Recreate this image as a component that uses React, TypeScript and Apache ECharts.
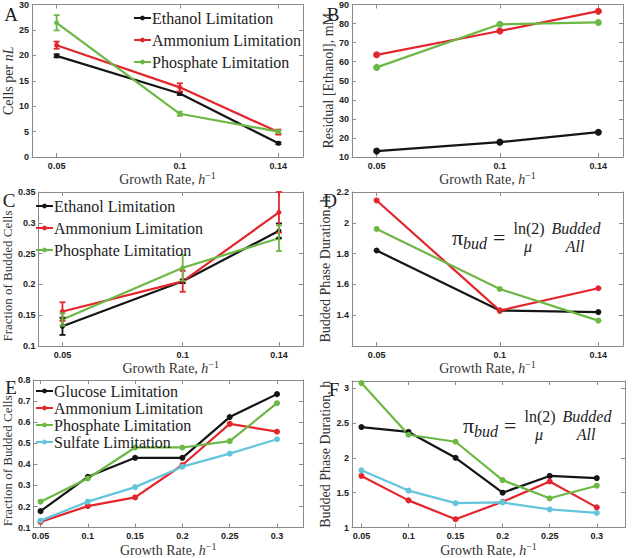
import React, { useEffect, useRef } from 'react';
import * as echarts from 'echarts';

// ---------- data ----------
const growthRatesABCD = [0.05, 0.1, 0.14];
const growthRatesEF = [0.05, 0.1, 0.15, 0.2, 0.25, 0.3];

// Panel A: cells per nL
const cellsEthanol = [19.9, 12.5, 2.7];
const cellsEthanolErr = [0.3, 0.3, 0.2];
const cellsAmmonium = [22.0, 13.7, 4.9];
const cellsAmmoniumErr = [0.7, 0.8, 0.5];
const cellsPhosphate = [26.4, 8.5, 5.0];
const cellsPhosphateErr = [1.5, 0.4, 0.3];

// Panel B: residual ethanol, mM
const residualEthanol = [13.1, 17.8, 23.0];
const residualAmmonium = [63.6, 76.1, 86.5];
const residualPhosphate = [57.0, 79.6, 80.6];

// Panel C: fraction of budded cells
const buddedEthanol = [0.132, 0.205, 0.287];
const buddedEthanolErr = [0.014, 0.003, 0.012];
const buddedAmmonium = [0.156, 0.205, 0.317];
const buddedAmmoniumErr = [0.015, 0.017, 0.033];
const buddedPhosphate = [0.143, 0.227, 0.275];
const buddedPhosphateErr = [0.01, 0.021, 0.021];

// Panel D: budded phase duration, h
const durationEthanol = [1.82, 1.43, 1.42];
const durationAmmonium = [2.145, 1.43, 1.575];
const durationPhosphate = [1.96, 1.57, 1.365];

// Panel E: fraction of budded cells
const buddedGlucoseE = [0.178, 0.341, 0.431, 0.431, 0.624, 0.733];
const buddedAmmoniumE = [0.127, 0.202, 0.243, 0.397, 0.592, 0.555];
const buddedPhosphateE = [0.223, 0.333, 0.48, 0.48, 0.51, 0.69];
const buddedSulfateE = [0.133, 0.223, 0.292, 0.389, 0.451, 0.519];

// Panel F: budded phase duration, h
const durationGlucoseF = [2.44, 2.37, 2.0, 1.5, 1.74, 1.71];
const durationAmmoniumF = [1.74, 1.39, 1.12, 1.37, 1.66, 1.29];
const durationPhosphateF = [3.07, 2.33, 2.23, 1.68, 1.42, 1.6];
const durationSulfateF = [1.82, 1.53, 1.35, 1.36, 1.26, 1.21];

// tick labels
const xTicksABCD = [0.05, 0.1, 0.14];
const xTicksEF = [0.05, 0.1, 0.15, 0.2, 0.25, 0.3];
const yTicksA = [0, 5, 10, 15, 20, 25, 30];
const yTicksB = [10, 20, 30, 40, 50, 60, 70, 80, 90];
const yTicksC = [0.1, 0.15, 0.2, 0.25, 0.3, 0.35];
const yTicksD = [1.4, 1.6, 1.8, 2, 2.2];
const yTicksE = [0.1, 0.2, 0.3, 0.4, 0.5, 0.6, 0.7, 0.8];
const yTicksF = [1, 1.5, 2, 2.5, 3];

const N_ETH = 'Ethanol Limitation';
const N_AMM = 'Ammonium Limitation';
const N_PHO = 'Phosphate Limitation';
const N_GLU = 'Glucose Limitation';
const N_SUL = 'Sulfate Limitation';

// ---------- styles ----------
const BLACK = '#151515';
const RED = '#e3262b';
const GREEN = '#6cb844';
const CYAN = '#63c5dc';
const SERIF = "'Liberation Serif', 'Times New Roman', 'DejaVu Serif', serif";
const SANS = "'Liberation Sans', Arial, sans-serif";
const AX = { color: '#8a8a8a', width: 1 };

const fmt = (v: number) => String(parseFloat(Number(v).toFixed(3)));

function nameStyle(size: number, shiftDown: number) {
  return {
    fontFamily: SERIF,
    fontSize: size,
    color: '#333',
    padding: shiftDown > 0 ? [0, shiftDown * 2, 0, 0] : 0,
    rich: {
      i: { fontFamily: SERIF, fontSize: size, fontStyle: 'italic', color: '#333' },
      s: { fontFamily: SERIF, fontSize: 10, color: '#333', padding: [0, 0, 7, 0] },
    },
  };
}

function xAxesFor(grid: number, min: number, max: number, ticks: number[]) {
  return [
    {
      type: 'value', gridIndex: grid, min, max, position: 'bottom',
      axisLine: { show: true, onZero: false, lineStyle: AX },
      axisTick: { show: true, inside: true, length: 4, customValues: ticks, lineStyle: AX },
      axisLabel: {
        show: true, customValues: ticks, margin: 4, fontSize: 9, fontWeight: 'bold',
        fontFamily: SANS, color: '#222', formatter: fmt,
      },
      splitLine: { show: false },
      name: 'Growth Rate, {i|h}{s|−1}',
      nameLocation: 'middle', nameGap: 10, nameTextStyle: nameStyle(14, 0),
    },
    {
      type: 'value', gridIndex: grid, min, max, position: 'top',
      axisLine: { show: true, onZero: false, lineStyle: AX },
      axisTick: { show: true, inside: true, length: 4, customValues: ticks, lineStyle: AX },
      axisLabel: { show: false },
      splitLine: { show: false },
    },
  ];
}

function yAxesFor(grid: number, min: number, max: number, ticks: number[], name: string, gap: number, size: number, shift: number) {
  return [
    {
      type: 'value', gridIndex: grid, min, max, position: 'left',
      axisLine: { show: true, onZero: false, lineStyle: AX },
      axisTick: { show: true, inside: true, length: 4, customValues: ticks, lineStyle: AX },
      axisLabel: {
        show: true, customValues: ticks, margin: 3, fontSize: 9, fontWeight: 'bold',
        fontFamily: SANS, color: '#222', formatter: fmt,
      },
      splitLine: { show: false },
      name, nameLocation: 'middle', nameGap: gap, nameTextStyle: nameStyle(size, shift),
    },
    {
      type: 'value', gridIndex: grid, min, max, position: 'right',
      axisLine: { show: true, onZero: false, lineStyle: AX },
      axisTick: { show: true, inside: true, length: 4, customValues: ticks, lineStyle: AX },
      axisLabel: { show: false },
      splitLine: { show: false },
    },
  ];
}

function line(name: string, color: string, xs: number[], ys: number[], panel: number, size: number) {
  return {
    type: 'line', name, xAxisIndex: panel * 2, yAxisIndex: panel * 2,
    data: xs.map((x, i) => [x, ys[i]]),
    symbol: 'circle', symbolSize: size, showSymbol: true,
    lineStyle: { color, width: 2.2 }, itemStyle: { color },
    silent: true, z: 2,
  };
}

function errorBars(color: string, xs: number[], ys: number[], errs: number[], panel: number) {
  return {
    type: 'custom', xAxisIndex: panel * 2, yAxisIndex: panel * 2,
    data: xs.map((x, i) => [x, ys[i] - errs[i], ys[i] + errs[i]]),
    encode: { x: 0, y: [1, 2] },
    silent: true, z: 3,
    renderItem: (params: any, api: any) => {
      const x = api.value(0);
      const lo = api.coord([x, api.value(1)]);
      const hi = api.coord([x, api.value(2)]);
      const w = 3;
      const st = { stroke: color, lineWidth: 1.8 };
      return {
        type: 'group',
        children: [
          { type: 'line', shape: { x1: lo[0], y1: lo[1], x2: hi[0], y2: hi[1] }, style: st },
          { type: 'line', shape: { x1: lo[0] - w, y1: lo[1], x2: lo[0] + w, y2: lo[1] }, style: st },
          { type: 'line', shape: { x1: hi[0] - w, y1: hi[1], x2: hi[0] + w, y2: hi[1] }, style: st },
        ],
      };
    },
  };
}

function formula(x0: number, y0: number) {
  const c = '#222';
  return {
    type: 'group', x: x0, y: y0, silent: true,
    children: [
      { type: 'text', x: 0, y: 0, style: { text: 'π', font: `22px ${SERIF}`, fill: c, align: 'left', verticalAlign: 'middle' } },
      { type: 'text', x: 11, y: 6, style: { text: 'bud', font: `italic 16px ${SERIF}`, fill: c, align: 'left', verticalAlign: 'middle' } },
      { type: 'text', x: 41, y: 0, style: { text: '=', font: `22px ${SERIF}`, fill: c, align: 'left', verticalAlign: 'middle' } },
      { type: 'text', x: 77, y: -9, style: { text: 'ln(2)', font: `16px ${SERIF}`, fill: c, align: 'center', verticalAlign: 'middle' } },
      { type: 'text', x: 76, y: 9, style: { text: 'μ', font: `italic 16px ${SERIF}`, fill: c, align: 'center', verticalAlign: 'middle' } },
      { type: 'text', x: 124, y: -9, style: { text: 'Budded', font: `italic 16px ${SERIF}`, fill: c, align: 'center', verticalAlign: 'middle' } },
      { type: 'text', x: 123, y: 9, style: { text: 'All', font: `italic 16px ${SERIF}`, fill: c, align: 'center', verticalAlign: 'middle' } },
    ],
  };
}

function letter(t: string, x: number, y: number) {
  return {
    type: 'text', x, y, silent: true,
    style: { text: t, font: `19px ${SERIF}`, fill: '#222', align: 'center', verticalAlign: 'middle' },
  };
}

function legendFor(names: string[], left: number, top: number, gap: number) {
  return {
    show: true, orient: 'vertical', left, top, itemGap: gap,
    itemWidth: 17, itemHeight: 6, padding: 0, selectedMode: false,
    data: names,
    textStyle: { fontFamily: SERIF, fontSize: 16, color: '#222', lineHeight: 16, padding: [0, 0, 0, -4] },
  };
}

export default function App() {
  const ref = useRef<HTMLDivElement>(null);
  useEffect(() => {
    document.body.style.margin = '0';
    if (!ref.current) return;
    const chart = echarts.init(ref.current, undefined, { renderer: 'svg' });

    const grids = [
      { left: 32, top: 3, width: 271, height: 154 },
      { left: 352, top: 3, width: 271, height: 154 },
      { left: 32, top: 192, width: 271, height: 154 },
      { left: 352, top: 192, width: 271, height: 154 },
      { left: 32, top: 380, width: 271, height: 155 },
      { left: 352, top: 381, width: 273, height: 154 },
    ].map((g) => ({ ...g, containLabel: false, show: false }));

    const xAxis = [
      ...xAxesFor(0, 0.04, 0.15, xTicksABCD),
      ...xAxesFor(1, 0.04, 0.15, xTicksABCD),
      ...xAxesFor(2, 0.04, 0.15, xTicksABCD),
      ...xAxesFor(3, 0.04, 0.15, xTicksABCD),
      ...xAxesFor(4, 0.0425, 0.3275, xTicksEF),
      ...xAxesFor(5, 0.04, 0.33, xTicksEF),
    ];
    const yAxis = [
      ...yAxesFor(0, 0, 30, yTicksA, 'Cells per {i|nL}', 17, 14, 0),
      ...yAxesFor(1, 10, 90, yTicksB, 'Residual [Ethanol], mM', 16, 14, 0),
      ...yAxesFor(2, 0.1, 0.35, yTicksC, 'Fraction of Budded Cells', 17, 13, 7),
      ...yAxesFor(3, 1.2, 2.2, yTicksD, 'Budded Phase Duration, h', 16, 14, 0),
      ...yAxesFor(4, 0.1, 0.8, yTicksE, 'Fraction of Budded Cells', 17, 13, 7),
      ...yAxesFor(5, 1, 3.1, yTicksF, 'Budded Phase Duration, h', 16, 14, 0),
    ];

    const series = [
      // A
      line(N_ETH, BLACK, growthRatesABCD, cellsEthanol, 0, 5),
      line(N_AMM, RED, growthRatesABCD, cellsAmmonium, 0, 5),
      line(N_PHO, GREEN, growthRatesABCD, cellsPhosphate, 0, 5),
      errorBars(BLACK, growthRatesABCD, cellsEthanol, cellsEthanolErr, 0),
      errorBars(RED, growthRatesABCD, cellsAmmonium, cellsAmmoniumErr, 0),
      errorBars(GREEN, growthRatesABCD, cellsPhosphate, cellsPhosphateErr, 0),
      // B
      line(N_ETH, BLACK, growthRatesABCD, residualEthanol, 1, 7),
      line(N_AMM, RED, growthRatesABCD, residualAmmonium, 1, 7),
      line(N_PHO, GREEN, growthRatesABCD, residualPhosphate, 1, 7),
      // C
      line(N_ETH, BLACK, growthRatesABCD, buddedEthanol, 2, 5),
      line(N_AMM, RED, growthRatesABCD, buddedAmmonium, 2, 5),
      line(N_PHO, GREEN, growthRatesABCD, buddedPhosphate, 2, 5),
      errorBars(BLACK, growthRatesABCD, buddedEthanol, buddedEthanolErr, 2),
      errorBars(RED, growthRatesABCD, buddedAmmonium, buddedAmmoniumErr, 2),
      errorBars(GREEN, growthRatesABCD, buddedPhosphate, buddedPhosphateErr, 2),
      // D
      line(N_ETH, BLACK, growthRatesABCD, durationEthanol, 3, 6),
      line(N_AMM, RED, growthRatesABCD, durationAmmonium, 3, 6),
      line(N_PHO, GREEN, growthRatesABCD, durationPhosphate, 3, 6),
      // E
      line(N_GLU, BLACK, growthRatesEF, buddedGlucoseE, 4, 6),
      line(N_AMM, RED, growthRatesEF, buddedAmmoniumE, 4, 6),
      line(N_PHO, GREEN, growthRatesEF, buddedPhosphateE, 4, 6),
      line(N_SUL, CYAN, growthRatesEF, buddedSulfateE, 4, 6),
      // F
      line(N_GLU, BLACK, growthRatesEF, durationGlucoseF, 5, 6),
      line(N_AMM, RED, growthRatesEF, durationAmmoniumF, 5, 6),
      line(N_PHO, GREEN, growthRatesEF, durationPhosphateF, 5, 6),
      line(N_SUL, CYAN, growthRatesEF, durationSulfateF, 5, 6),
    ];

    chart.setOption({
      animation: false,
      backgroundColor: '#fff',
      textStyle: { fontFamily: SERIF },
      grid: grids,
      xAxis,
      yAxis,
      legend: [
        legendFor([N_ETH, N_AMM, N_PHO], 133, 10, 6),
        legendFor([N_ETH, N_AMM, N_PHO], 35, 198, 6),
        legendFor([N_GLU, N_AMM, N_PHO, N_SUL], 35, 383, 1),
      ],
      graphic: [
        letter('A', 11, 14),
        letter('B', 333, 14),
        letter('C', 9, 200),
        letter('D', 330, 200),
        letter('E', 11, 387),
        letter('F', 334, 389),
        formula(452, 237),
        formula(463, 425),
      ],
      series,
    });
    return () => chart.dispose();
  }, []);
  return <div ref={ref} style={{ width: 640, height: 558 }} />;
}
